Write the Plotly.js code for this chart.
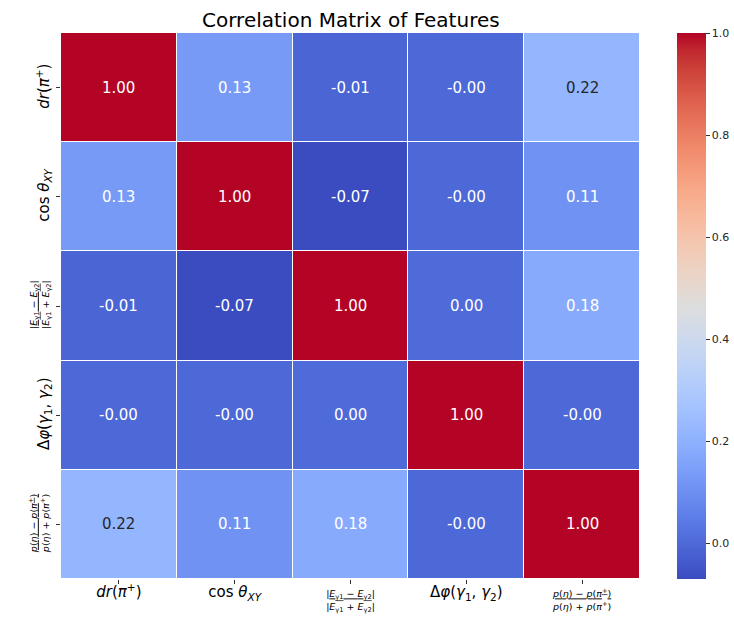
<!DOCTYPE html>
<html><head><meta charset="utf-8">
<script src="https://cdn.plot.ly/plotly-3.0.1.min.js"></script>
<style>body{margin:0;background:#fff}#chart{width:734px;height:619px}</style>
</head><body><div id="chart"></div>
<script>
const features = [
  "<span style='font-size:15px'><i>dr</i>(<i>π</i><sup>+</sup>)</span>",
  "<span style='font-size:15px'>cos <i>θ</i><sub><i>XY</i></sub></span>",
  "|<u><i>E</i><sub>γ1</sub> − <i>E</i><sub>γ2</sub></u>|<br>|<i>E</i><sub>γ1</sub> + <i>E</i><sub>γ2</sub>|",
  "<span style='font-size:15px'>Δ<i>φ</i>(<i>γ</i><sub>1</sub>, <i>γ</i><sub>2</sub>)</span>",
  "<u><i>p</i>(<i>η</i>) − <i>p</i>(<i>π</i><sup>+</sup>)</u><br><i>p</i>(<i>η</i>) + <i>p</i>(<i>π</i><sup>+</sup>)"
];
const row0 = [1.00, 0.13, -0.01, -0.002, 0.22];
const row1 = [0.13, 1.00, -0.07, -0.002, 0.11];
const row2 = [-0.01, -0.07, 1.00, 0.002, 0.18];
const row3 = [-0.002, -0.002, 0.002, 1.00, -0.002];
const row4 = [0.22, 0.11, 0.18, -0.002, 1.00];
const corr = [row0, row1, row2, row3, row4];
const colorbarTicks = [0.0, 0.2, 0.4, 0.6, 0.8, 1.0];

const cw = [[59,76,192],[68,90,204],[77,104,215],[87,117,225],[98,130,234],[108,142,241],[119,154,247],[130,165,251],[141,176,254],[152,185,255],[163,194,255],[174,201,253],[184,208,249],[194,213,244],[204,217,238],[213,219,230],[221,221,221],[229,216,209],[236,211,197],[241,204,184],[245,196,172],[247,187,159],[247,177,147],[247,167,134],[244,154,122],[241,141,110],[236,127,99],[229,112,88],[222,96,77],[213,80,66],[203,62,56],[192,40,47],[180,4,38]];
const colorscale = cw.map((c,i)=>[i/(cw.length-1), `rgb(${c[0]},${c[1]},${c[2]})`]);

const fmt = v => { const s = Math.abs(v).toFixed(2); return (v < 0 ? "-" : "") + s; };
const annotations = [];
corr.forEach((row, i) => row.forEach((v, j) => {
  annotations.push({x: features[j], y: features[i], text: fmt(v), showarrow: false,
    font: {family: "DejaVu Sans", size: 15, color: (v > 0.2 && v < 0.8) ? "#262626" : "#ffffff"}});
}));

const data = [{
  type: "heatmap", z: corr, x: features, y: features,
  colorscale: colorscale, zmin: -0.07, zmax: 1.0, xgap: 1, ygap: 1,
  hoverinfo: "skip",
  colorbar: {x: 1.064, xanchor: "left", xpad: 0, y: 0, yanchor: "bottom", ypad: 0, len: 1, lenmode: "fraction",
    thickness: 29, outlinewidth: 0, ticks: "outside", ticklen: 4, tickwidth: 1, tickcolor: "#333",
    tickvals: colorbarTicks, ticktext: colorbarTicks.map(v => v.toFixed(1)),
    tickfont: {family: "DejaVu Sans", size: 11, color: "#262626"}}
}];
const layout = {
  width: 734, height: 619,
  margin: {l: 61, r: 94, t: 33, b: 40, autoexpand: false},
  paper_bgcolor: "#fff", plot_bgcolor: "#fff",
  title: {text: "Correlation Matrix of Features", x: 0.478, xanchor: "center", y: 0.967, yanchor: "middle",
    font: {family: "DejaVu Sans", size: 20, color: "#000"}},
  xaxis: {type: "category", showgrid: false, zeroline: false, ticks: "outside", ticklen: 4, tickcolor: "#333",
    ticklabelstandoff: 2, automargin: false, tickfont: {family: "DejaVu Sans", size: 9.5, color: "#000"}},
  yaxis: {type: "category", autorange: "reversed", showgrid: false, zeroline: false, ticks: "outside", ticklen: 4, tickcolor: "#333",
    ticklabelstandoff: 3, automargin: false, tickangle: -90, tickfont: {family: "DejaVu Sans", size: 9.5, color: "#000"}},
  annotations: annotations
};
Plotly.newPlot("chart", data, layout, {displayModeBar: false});
</script></body></html>
